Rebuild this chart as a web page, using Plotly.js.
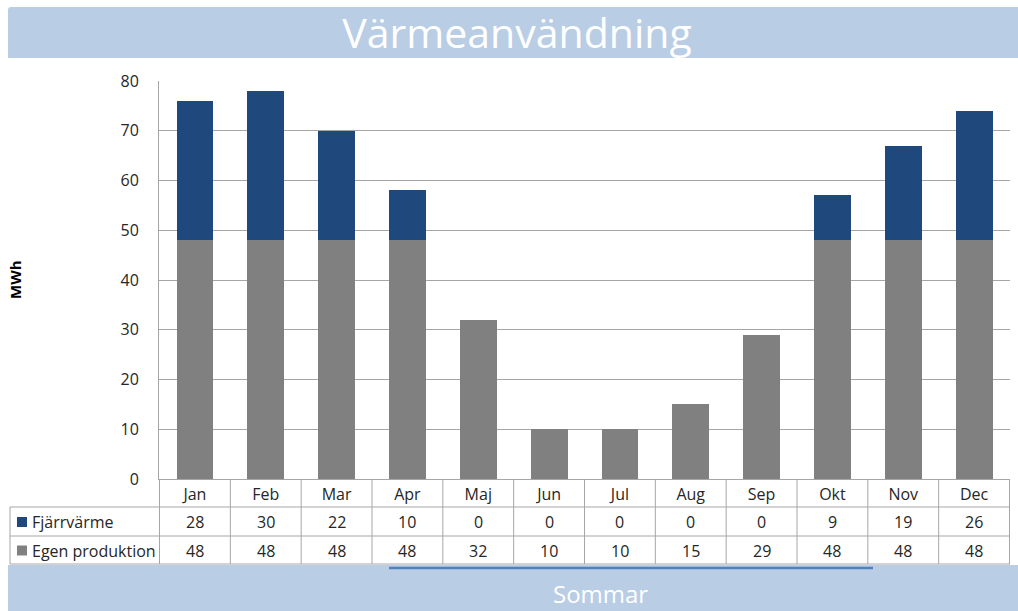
<!DOCTYPE html>
<html>
<head>
<meta charset="utf-8">
<script src="https://cdn.plot.ly/plotly-3.0.1.min.js"></script>
<style>html,body{margin:0;padding:0;background:#fff;}#chart{width:1018px;height:611px;}</style>
</head>
<body>
<div id="chart"></div>
<script>
// ---- data ----
var months = ["Jan","Feb","Mar","Apr","Maj","Jun","Jul","Aug","Sep","Okt","Nov","Dec"];
var fjarrvarme = [28,30,22,10,0,0,0,0,0,9,19,26];
var egenProduktion = [48,48,48,48,32,10,10,15,29,48,48,48];
var seriesNames = ["Fjärrvärme","Egen produktion"];
var chartTitle = "Värmeanvändning";
var yTitle = "MWh";
var bannerText = "Sommar";

// ---- styles ----
var colFjarr = "#1F497D";
var colEgen = "#808080";
var gridCol = "#A6A6A6";
var textCol = "#262626";
var bannerCol = "#B9CDE5";
var FONT = "Open Sans, sans-serif";

// layout geometry (pixels -> paper)
var W = 1018, H = 611, L = 159, R = 8, T = 81, B = 132;
var pw = W - L - R, ph = H - T - B;
function px(x){ return (x - L) / pw; }
function py(y){ return (H - B - y) / ph; }

var traces = [
  {type:"bar", name:seriesNames[1], x:months, y:egenProduktion, marker:{color:colEgen}, hoverinfo:"x+y+name"},
  {type:"bar", name:seriesNames[0], x:months, y:fjarrvarme, marker:{color:colFjarr}, hoverinfo:"x+y+name"}
];

var shapes = [];
var annotations = [];

// banners
shapes.push({type:"path", xref:"paper", yref:"paper", layer:"below",
  path: "M"+px(8)+","+py(58)+" L"+px(1018)+","+py(58)+" L"+px(1018)+","+py(7)+" L"+px(11)+","+py(7)+" Q"+px(8)+","+py(7)+" "+px(8)+","+py(10)+" Z",
  fillcolor:bannerCol, line:{width:0}});
shapes.push({type:"rect", xref:"paper", yref:"paper", layer:"below",
  x0:px(8), x1:px(1018), y0:py(565), y1:py(620), fillcolor:bannerCol, line:{width:0}});
shapes.push({type:"line", xref:"paper", yref:"paper",
  x0:px(389), x1:px(873), y0:py(568), y1:py(568), line:{color:"#4F81BD", width:2.5}});

// table lines
var rowLines = [507, 536, 564];
rowLines.forEach(function(y){
  shapes.push({type:"line", xref:"paper", yref:"paper", x0:px(10), x1:1, y0:py(y), y1:py(y), line:{color:gridCol, width:1}});
});
shapes.push({type:"line", xref:"paper", yref:"paper", x0:px(10), x1:px(10), y0:py(507), y1:py(564), line:{color:gridCol, width:1}});
for (var i = -1; i < months.length; i++){
  shapes.push({type:"line", xref:"x", yref:"paper", x0:i+0.5, x1:i+0.5, y0:0, y1:py(564), line:{color:gridCol, width:1}});
}
// legend key squares (table)
var keyRows = [[522, colFjarr], [550.5, colEgen]];
keyRows.forEach(function(k){
  shapes.push({type:"rect", xref:"paper", yref:"paper", x0:px(17), x1:px(27), y0:py(k[0]-5), y1:py(k[0]+5),
    fillcolor:k[1], line:{width:0}});
});

// table values
for (var j = 0; j < months.length; j++){
  annotations.push({xref:"x", yref:"paper", x:months[j], y:py(522), text:String(fjarrvarme[j]), showarrow:false,
    font:{family:FONT, size:16, color:textCol}, xanchor:"center", yanchor:"middle"});
  annotations.push({xref:"x", yref:"paper", x:months[j], y:py(550.5), text:String(egenProduktion[j]), showarrow:false,
    font:{family:FONT, size:16, color:textCol}, xanchor:"center", yanchor:"middle"});
}
// legend labels in table
annotations.push({xref:"paper", yref:"paper", x:px(30), y:py(522), xanchor:"left", yanchor:"middle", showarrow:false,
  text:seriesNames[0], font:{family:FONT, size:16, color:textCol}});
annotations.push({xref:"paper", yref:"paper", x:px(30), y:py(550.5), xanchor:"left", yanchor:"middle", showarrow:false,
  text:seriesNames[1], font:{family:FONT, size:16, color:textCol}});
// y title
annotations.push({xref:"paper", yref:"paper", x:px(15), y:py(280), xanchor:"center", yanchor:"middle", showarrow:false,
  textangle:-90, text:"<b>"+yTitle+"</b>", font:{family:"Open Sans, sans-serif", size:15, color:"#000"}});
// bottom banner text
annotations.push({xref:"paper", yref:"paper", x:px(600), y:py(593), xanchor:"center", yanchor:"middle", showarrow:false,
  text:bannerText, font:{family:FONT, size:24, color:"#ffffff"}});

var layout = {
  width: W, height: H,
  margin: {l:L, r:R, t:T, b:B, pad:0},
  paper_bgcolor:"#ffffff", plot_bgcolor:"#ffffff",
  title: {text: chartTitle, x: 517/W, xanchor:"center", y: 1 - 34/H, yanchor:"middle",
          font:{family:FONT, size:41, color:"#ffffff"}},
  barmode:"stack", bargap:0.48,
  showlegend:false,
  xaxis: {type:"category", tickfont:{family:FONT, size:16, color:textCol}, showgrid:false,
          showline:true, linecolor:gridCol, linewidth:1, ticks:"", ticklabelstandoff:1, fixedrange:true},
  yaxis: {range:[0,80], dtick:10, tick0:0, showgrid:true, gridcolor:gridCol, gridwidth:1,
          showline:true, linecolor:gridCol, linewidth:1, zeroline:false, ticks:"",
          tickfont:{family:FONT, size:16, color:textCol}, ticklabelstandoff:16, fixedrange:true},
  shapes: shapes,
  annotations: annotations
};

Plotly.newPlot("chart", traces, layout, {displayModeBar:false, staticPlot:true});
</script>
</body>
</html>
